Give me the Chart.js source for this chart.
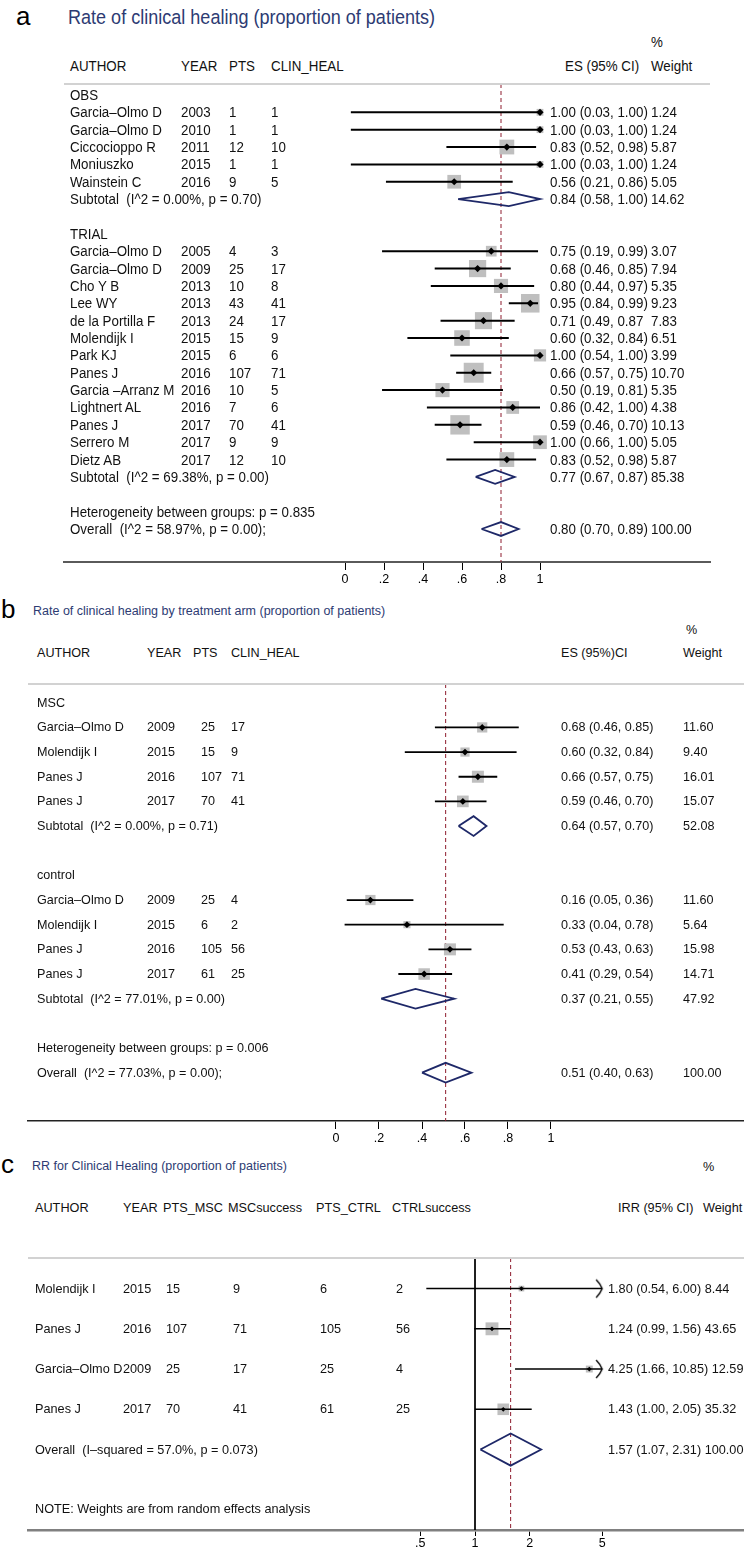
<!DOCTYPE html>
<html lang="en">
<head>
<meta charset="UTF-8">
<title>Clinical healing - forest plots</title>
<script src="https://cdn.jsdelivr.net/npm/chart.js"></script>
<style>
    body { margin: 0; background: #fff; }
    #page {
        position: relative;
        width: 744px;
        height: 1551px;
        overflow: hidden;
        background: #fff;
        color: #111;
        font-family: 'Liberation Sans', Arial, sans-serif;
    }
    #page canvas { position: absolute; left: 0; }
    .t { position: absolute; white-space: pre; transform: translateY(-50%); transform-origin: 0 50%; }
    .rule { position: absolute; height: 2px; background: #d2d2d2; }
</style>
</head>
<body>
<div id="page">
    <canvas id="chartA"></canvas>
    <canvas id="chartB"></canvas>
    <canvas id="chartC"></canvas>
</div>

<script>
// ---------- panel a : rate of clinical healing ----------
const aGroups = ['OBS', 'TRIAL'];
const aGroupIdx = [0, 0, 0, 0, 0, 1, 1, 1, 1, 1, 1, 1, 1, 1, 1, 1, 1, 1];
const aAuthor = ['Garcia–Olmo D', 'Garcia–Olmo D', 'Ciccocioppo R', 'Moniuszko', 'Wainstein C',
    'Garcia–Olmo D', 'Garcia–Olmo D', 'Cho Y B', 'Lee WY', 'de la Portilla F', 'Molendijk I', 'Park KJ',
    'Panes J', 'Garcia –Arranz M', 'Lightnert AL', 'Panes J', 'Serrero M', 'Dietz AB'];
const aYear = [2003, 2010, 2011, 2015, 2016, 2005, 2009, 2013, 2013, 2013, 2015, 2015, 2016, 2016, 2016, 2017, 2017, 2017];
const aPts = [1, 1, 12, 1, 9, 4, 25, 10, 43, 24, 15, 6, 107, 10, 7, 70, 9, 12];
const aHeal = [1, 1, 10, 1, 5, 3, 17, 8, 41, 17, 9, 6, 71, 5, 6, 41, 9, 10];
const aES = [1.00, 1.00, 0.83, 1.00, 0.56, 0.75, 0.68, 0.80, 0.95, 0.71, 0.60, 1.00, 0.66, 0.50, 0.86, 0.59, 1.00, 0.83];
const aLo = [0.03, 0.03, 0.52, 0.03, 0.21, 0.19, 0.46, 0.44, 0.84, 0.49, 0.32, 0.54, 0.57, 0.19, 0.42, 0.46, 0.66, 0.52];
const aHi = [1.00, 1.00, 0.98, 1.00, 0.86, 0.99, 0.85, 0.97, 0.99, 0.87, 0.84, 1.00, 0.75, 0.81, 1.00, 0.70, 1.00, 0.98];
const aWeight = [1.24, 1.24, 5.87, 1.24, 5.05, 3.07, 7.94, 5.35, 9.23, 7.83, 6.51, 3.99, 10.70, 5.35, 4.38, 10.13, 5.05, 5.87];
const aNoBracket = [9]; // de la Portilla: closing bracket is missing in the original
const aSubLabel = ['Subtotal  (I^2 = 0.00%, p = 0.70)', 'Subtotal  (I^2 = 69.38%, p = 0.00)'];
const aSubES = [0.84, 0.77];
const aSubLo = [0.58, 0.67];
const aSubHi = [1.00, 0.87];
const aSubWeight = [14.62, 85.38];
const aHetLabel = 'Heterogeneity between groups: p = 0.835';
const aOverallLabel = 'Overall  (I^2 = 58.97%, p = 0.00);';
const aOverall = [0.80, 0.70, 0.89, 100.00]; // ES, lo, hi, weight
const aTicks = [0, 0.2, 0.4, 0.6, 0.8, 1];
const aTickLabels = ['0', '.2', '.4', '.6', '.8', '1'];

// ---------- panel b : by treatment arm ----------
const bGroups = ['MSC', 'control'];
const bGroupIdx = [0, 0, 0, 0, 1, 1, 1, 1];
const bAuthor = ['Garcia–Olmo D', 'Molendijk I', 'Panes J', 'Panes J', 'Garcia–Olmo D', 'Molendijk I', 'Panes J', 'Panes J'];
const bYear = [2009, 2015, 2016, 2017, 2009, 2015, 2016, 2017];
const bPts = [25, 15, 107, 70, 25, 6, 105, 61];
const bHeal = [17, 9, 71, 41, 4, 2, 56, 25];
const bES = [0.68, 0.60, 0.66, 0.59, 0.16, 0.33, 0.53, 0.41];
const bLo = [0.46, 0.32, 0.57, 0.46, 0.05, 0.04, 0.43, 0.29];
const bHi = [0.85, 0.84, 0.75, 0.70, 0.36, 0.78, 0.63, 0.54];
const bWeight = [11.60, 9.40, 16.01, 15.07, 11.60, 5.64, 15.98, 14.71];
const bSubLabel = ['Subtotal  (I^2 = 0.00%, p = 0.71)', 'Subtotal  (I^2 = 77.01%, p = 0.00)'];
const bSubES = [0.64, 0.37];
const bSubLo = [0.57, 0.21];
const bSubHi = [0.70, 0.55];
const bSubWeight = [52.08, 47.92];
const bHetLabel = 'Heterogeneity between groups: p = 0.006';
const bOverallLabel = 'Overall  (I^2 = 77.03%, p = 0.00);';
const bOverall = [0.51, 0.40, 0.63, 100.00];
const bTicks = [0, 0.2, 0.4, 0.6, 0.8, 1];
const bTickLabels = ['0', '.2', '.4', '.6', '.8', '1'];

// ---------- panel c : RR MSC vs control ----------
const cAuthor = ['Molendijk I', 'Panes J', 'Garcia–Olmo D', 'Panes J'];
const cYear = [2015, 2016, 2009, 2017];
const cPtsMsc = [15, 107, 25, 70];
const cMscSuccess = [9, 71, 17, 41];
const cPtsCtrl = [6, 105, 25, 61];
const cCtrlSuccess = [2, 56, 4, 25];
const cIRR = [1.80, 1.24, 4.25, 1.43];
const cLo = [0.54, 0.99, 1.66, 1.00];
const cHi = [6.00, 1.56, 10.85, 2.05];
const cWeight = [8.44, 43.65, 12.59, 35.32];
const cOverallLabel = 'Overall  (I–squared = 57.0%, p = 0.073)';
const cOverall = [1.57, 1.07, 2.31, 100.00];
const cNote = 'NOTE: Weights are from random effects analysis';
const cTicks = [0.5, 1, 2, 5];
const cTickLabels = ['.5', '1', '2', '5'];

// ---------- fonts ----------
const SANS = '"Liberation Sans", Arial, sans-serif';
const fontA = '15.5px/1 ' + SANS;      // drawn condensed (scaleX) like the narrow Stata font
const fontATitle = '20.5px/1 ' + SANS;
const fontB = '12.6px/1 ' + SANS;
const fontC = '12.7px/1 ' + SANS;
const fontSmallTitle = '12.5px/1 ' + SANS;
const fontLetter = '26px/1 ' + SANS;
const TITLE_COLOR = '#2d3b73';

const page = document.getElementById('page');

function put(text, x, y, font, color, squeeze) {
    const d = document.createElement('div');
    d.className = 't';
    d.textContent = text;
    d.style.left = x + 'px';
    d.style.top = y + 'px';
    d.style.font = font;
    if (color) d.style.color = color;
    if (squeeze) d.style.transform = 'translateY(-50%) scaleX(' + squeeze + ')';
    page.appendChild(d);
    return d;
}
const putA = (text, x, y) => put(text, x, y, fontA, null, 0.86);

function rule(x1, x2, y) {
    const d = document.createElement('div');
    d.className = 'rule';
    d.style.left = x1 + 'px';
    d.style.width = (x2 - x1) + 'px';
    d.style.top = (y - 1) + 'px';
    page.appendChild(d);
}

const fmt = (e, l, h) => e.toFixed(2) + ' (' + l.toFixed(2) + ', ' + h.toFixed(2) + ')';

// rows: group title, its studies, subtotal, blank line ... then heterogeneity + overall
function groupedRows(groupIdx, nGroups) {
    let r = 0;
    const study = [], group = [], sub = [];
    for (let g = 0; g < nGroups; g++) {
        group[g] = r++;
        groupIdx.forEach((gi, i) => { if (gi === g) study[i] = r++; });
        sub[g] = r++;
        r++;
    }
    return { study, group, sub, het: r, overall: r + 1 };
}

// chevron drawn where a CI runs past the axis range (tip at the centre of the image)
function chevron() {
    const c = document.createElement('canvas');
    c.width = 20; c.height = 22;
    const g = c.getContext('2d');
    g.strokeStyle = '#000';
    g.lineWidth = 1.4;
    g.beginPath();
    g.moveTo(4, 2);
    g.quadraticCurveTo(8, 6, 10, 11);
    g.quadraticCurveTo(8, 16, 4, 20);
    g.stroke();
    return c;
}

function forestConfig(L, m) {
    const ci = [];
    m.cis.forEach(c => {
        ci.push({ x: c.lo, y: c.y }, { x: m.clip ? Math.min(c.hi, m.clip) : c.hi, y: c.y }, { x: null, y: null });
    });
    const dia = [];
    m.diamonds.forEach(d => {
        const h = L.diamondH;
        dia.push({ x: d.lo, y: d.y }, { x: d.es, y: d.y - h }, { x: d.hi, y: d.y },
                 { x: d.es, y: d.y + h }, { x: d.lo, y: d.y }, { x: null, y: null });
    });
    const arrows = m.clip ? m.cis.filter(c => c.hi > m.clip).map(c => ({ x: m.clip, y: c.y })) : [];

    const datasets = [
        { label: 'estimate', data: m.boxes.map(b => ({ x: b.x, y: b.y })), pointStyle: 'rectRot',
          pointRadius: L.markR, backgroundColor: '#000', borderWidth: 0, order: 0 },
        { label: 'arrow', data: arrows, pointStyle: chevron(), pointRadius: 10, order: 0 },
        { label: '95% CI', data: ci, showLine: true, pointRadius: 0, borderColor: '#000',
          borderWidth: L.ciWidth, order: 1 },
        { label: 'weight', data: m.boxes, pointStyle: 'rect',
          pointRadius: c => c.raw ? L.boxK * Math.sqrt(c.raw.w) * Math.SQRT1_2 : 0,
          backgroundColor: '#bfbfbf', borderWidth: 0, order: 2 },
        { label: 'pooled', data: dia, showLine: true, pointRadius: 0, borderColor: '#1e2868',
          borderWidth: 1.8, borderJoinStyle: 'miter', order: 3 },
        { label: 'overall', data: [{ x: m.ref, y: L.rowMin }, { x: m.ref, y: L.rowMax }], showLine: true,
          pointRadius: 0, borderColor: '#8e1c2e', borderWidth: 1, borderDash: [4, 3], order: 4 }
    ];
    if (m.nullAt != null) {
        datasets.push({ label: 'no effect', data: [{ x: m.nullAt, y: L.rowMin }, { x: m.nullAt, y: L.rowMax }],
            showLine: true, pointRadius: 0, borderColor: '#000', borderWidth: 1, order: 5 });
    }

    return {
        type: 'scatter',
        data: { datasets },
        options: {
            responsive: false,
            maintainAspectRatio: false,
            animation: false,
            events: [],
            layout: { autoPadding: false, padding: { left: L.left, right: 744 - L.right, top: 0, bottom: 0 } },
            plugins: { legend: { display: false }, tooltip: { enabled: false } },
            scales: {
                x: {
                    type: L.xType,
                    min: L.xMin,
                    max: L.xMax,
                    position: 'bottom',
                    grid: { display: true, drawOnChartArea: false, drawTicks: true,
                            tickLength: L.tickLength, tickColor: '#000', tickWidth: 1 },
                    border: { display: true, color: L.axisColor, width: L.axisWidth },
                    ticks: {
                        color: '#000',
                        font: L.tickFont,
                        padding: L.tickPad,
                        autoSkip: false,
                        maxRotation: 0,
                        callback: (v, i) => L.tickLabels[i]
                    },
                    afterBuildTicks: s => { s.ticks = L.ticks.map(v => ({ value: v })); }
                },
                y: { type: 'linear', reverse: true, min: L.rowMin, max: L.rowMax, display: false }
            }
        }
    };
}

function setSize(canvas, h) {
    canvas.width = 744;
    canvas.height = h;
    canvas.style.width = '744px';
    canvas.style.height = h + 'px';
}

// build once, then fix the canvas height so the plot area ends exactly on the axis line
function forest(canvasId, L, m) {
    const canvas = document.getElementById(canvasId);
    const areaH = L.axisY - L.sepY;
    let h = areaH + 30;
    canvas.style.top = L.sepY + 'px';
    setSize(canvas, h);
    let chart = new Chart(canvas, forestConfig(L, m));
    const diff = areaH - chart.chartArea.bottom;
    if (Math.abs(diff) > 0.3) {
        chart.destroy();
        h = Math.round(h + diff);
        setSize(canvas, h);
        chart = new Chart(canvas, forestConfig(L, m));
    }
    rule(L.left, L.right, L.sepY);
    return y => L.sepY + chart.scales.y.getPixelForValue(y);
}

// ================= panel a =================
const rowsA = groupedRows(aGroupIdx, aGroups.length);
const LA = {
    sepY: 84, axisY: 562, left: 64, right: 710, rowMin: -0.63, rowMax: 26.9,
    xType: 'linear', xMin: (64 - 345) / 195, xMax: (710 - 345) / 195,
    ticks: aTicks, tickLabels: aTickLabels, tickLength: 8, tickPad: 2,
    tickFont: { family: SANS, size: 12.5 },
    axisColor: '#5a5a5a', axisWidth: 2, boxK: 6.1, ciWidth: 2, markR: 3.6, diamondH: 0.4
};
const yA = forest('chartA', LA, {
    boxes: aES.map((v, i) => ({ x: v, y: rowsA.study[i], w: aWeight[i] })),
    cis: aES.map((v, i) => ({ lo: aLo[i], hi: aHi[i], y: rowsA.study[i] })),
    diamonds: aSubES.map((v, g) => ({ es: v, lo: aSubLo[g], hi: aSubHi[g], y: rowsA.sub[g] }))
        .concat([{ es: aOverall[0], lo: aOverall[1], hi: aOverall[2], y: rowsA.overall }]),
    ref: aOverall[0]
});

const colA = { author: 70, year: 181, pts: 229, heal: 271, es: 550, weight: 651 };
put('a', 16, 16, fontLetter, '#000');
put('Rate of clinical healing (proportion of patients)', 68, 17, fontATitle, TITLE_COLOR, 0.88);
putA('%', colA.weight, 42);
putA('AUTHOR', colA.author, 66);
putA('YEAR', colA.year, 66);
putA('PTS', colA.pts, 66);
putA('CLIN_HEAL', colA.heal, 66);
putA('ES (95% CI)', 565, 66);
putA('Weight', colA.weight, 66);
aGroups.forEach((g, gi) => {
    putA(g, colA.author, yA(rowsA.group[gi]));
    putA(aSubLabel[gi], colA.author, yA(rowsA.sub[gi]));
    putA(fmt(aSubES[gi], aSubLo[gi], aSubHi[gi]), colA.es, yA(rowsA.sub[gi]));
    putA(aSubWeight[gi].toFixed(2), colA.weight, yA(rowsA.sub[gi]));
});
aAuthor.forEach((name, i) => {
    const y = yA(rowsA.study[i]);
    let es = fmt(aES[i], aLo[i], aHi[i]);
    if (aNoBracket.includes(i)) es = es.slice(0, -1);
    putA(name, colA.author, y);
    putA(String(aYear[i]), colA.year, y);
    putA(String(aPts[i]), colA.pts, y);
    putA(String(aHeal[i]), colA.heal, y);
    putA(es, colA.es, y);
    putA(aWeight[i].toFixed(2), colA.weight, y);
});
putA(aHetLabel, colA.author, yA(rowsA.het));
putA(aOverallLabel, colA.author, yA(rowsA.overall));
putA(fmt(aOverall[0], aOverall[1], aOverall[2]), colA.es, yA(rowsA.overall));
putA(aOverall[3].toFixed(2), colA.weight, yA(rowsA.overall));

// ================= panel b =================
const rowsB = groupedRows(bGroupIdx, bGroups.length);
const LB = {
    sepY: 684, axisY: 1121, left: 28, right: 744, rowMin: -0.76, rowMax: 16.96,
    xType: 'linear', xMin: (28 - 336) / 215, xMax: (744 - 336) / 215,
    ticks: bTicks, tickLabels: bTickLabels, tickLength: 8, tickPad: 2,
    tickFont: { family: SANS, size: 12.5 },
    axisColor: '#222', axisWidth: 1.6, boxK: 3.0, ciWidth: 1.8, markR: 3.4, diamondH: 0.4
};
const yB = forest('chartB', LB, {
    boxes: bES.map((v, i) => ({ x: v, y: rowsB.study[i], w: bWeight[i] })),
    cis: bES.map((v, i) => ({ lo: bLo[i], hi: bHi[i], y: rowsB.study[i] })),
    diamonds: bSubES.map((v, g) => ({ es: v, lo: bSubLo[g], hi: bSubHi[g], y: rowsB.sub[g] }))
        .concat([{ es: bOverall[0], lo: bOverall[1], hi: bOverall[2], y: rowsB.overall }]),
    ref: bOverall[0]
});

const colB = { author: 37, year: 147, pts: 201, heal: 231, es: 561, weight: 683 };
put('b', 1, 609, fontLetter, '#000');
put('Rate of clinical healing by treatment arm (proportion of patients)', 33, 611, fontSmallTitle, TITLE_COLOR);
put('%', 686, 630, fontB);
put('AUTHOR', colB.author, 653, fontB);
put('YEAR', colB.year, 653, fontB);
put('PTS', 193, 653, fontB);
put('CLIN_HEAL', colB.heal, 653, fontB);
put('ES (95%)CI', colB.es, 653, fontB);
put('Weight', colB.weight, 653, fontB);
bGroups.forEach((g, gi) => {
    put(g, colB.author, yB(rowsB.group[gi]), fontB);
    put(bSubLabel[gi], colB.author, yB(rowsB.sub[gi]), fontB);
    put(fmt(bSubES[gi], bSubLo[gi], bSubHi[gi]), colB.es, yB(rowsB.sub[gi]), fontB);
    put(bSubWeight[gi].toFixed(2), colB.weight, yB(rowsB.sub[gi]), fontB);
});
bAuthor.forEach((name, i) => {
    const y = yB(rowsB.study[i]);
    put(name, colB.author, y, fontB);
    put(String(bYear[i]), colB.year, y, fontB);
    put(String(bPts[i]), colB.pts, y, fontB);
    put(String(bHeal[i]), colB.heal, y, fontB);
    put(fmt(bES[i], bLo[i], bHi[i]), colB.es, y, fontB);
    put(bWeight[i].toFixed(2), colB.weight, y, fontB);
});
put(bHetLabel, colB.author, yB(rowsB.het), fontB);
put(bOverallLabel, colB.author, yB(rowsB.overall), fontB);
put(fmt(bOverall[0], bOverall[1], bOverall[2]), colB.es, yB(rowsB.overall), fontB);
put(bOverall[3].toFixed(2), colB.weight, yB(rowsB.overall), fontB);

// ================= panel c =================
const rowsC = cAuthor.map((n, i) => i);
const overallRowC = cAuthor.length;
const LC = {
    sepY: 1258, axisY: 1530, left: 28, right: 744, rowMin: -0.76, rowMax: 6.0,
    xType: 'logarithmic', xMin: Math.exp((28 - 475) / 79), xMax: Math.exp((744 - 475) / 79),
    ticks: cTicks, tickLabels: cTickLabels, tickLength: 6, tickPad: 0,
    tickFont: { family: SANS, size: 12.5 },
    axisColor: '#808080', axisWidth: 2.5, boxK: 1.95, ciWidth: 1.5, markR: 2.4, diamondH: 0.4
};
const yC = forest('chartC', LC, {
    boxes: cIRR.map((v, i) => ({ x: v, y: rowsC[i], w: cWeight[i] })),
    cis: cIRR.map((v, i) => ({ lo: cLo[i], hi: cHi[i], y: rowsC[i] })),
    diamonds: [{ es: cOverall[0], lo: cOverall[1], hi: cOverall[2], y: overallRowC }],
    ref: cOverall[0],
    nullAt: 1,
    clip: cTicks[cTicks.length - 1]
});

const colC = { author: 35, year: 123, ptsMsc: 166, msc: 233, ptsCtrl: 320, ctrl: 396, es: 608 };
put('c', 1, 1164, fontLetter, '#000');
put('RR for Clinical Healing (proportion of patients)', 32, 1166, fontSmallTitle, TITLE_COLOR);
put('%', 703, 1167, fontC);
put('AUTHOR', colC.author, 1208, fontC);
put('YEAR', colC.year, 1208, fontC);
put('PTS_MSC', 163, 1208, fontC);
put('MSCsuccess', 228, 1208, fontC);
put('PTS_CTRL', 316, 1208, fontC);
put('CTRLsuccess', 392, 1208, fontC);
put('IRR (95% CI)', 618, 1208, fontC);
put('Weight', 703, 1208, fontC);
cAuthor.forEach((name, i) => {
    const y = yC(rowsC[i]);
    put(name, colC.author, y, fontC);
    put(String(cYear[i]), colC.year, y, fontC);
    put(String(cPtsMsc[i]), colC.ptsMsc, y, fontC);
    put(String(cMscSuccess[i]), colC.msc, y, fontC);
    put(String(cPtsCtrl[i]), colC.ptsCtrl, y, fontC);
    put(String(cCtrlSuccess[i]), colC.ctrl, y, fontC);
    put(fmt(cIRR[i], cLo[i], cHi[i]) + ' ' + cWeight[i].toFixed(2), colC.es, y, fontC);
});
put(cOverallLabel, colC.author, yC(overallRowC), fontC);
put(fmt(cOverall[0], cOverall[1], cOverall[2]) + ' ' + cOverall[3].toFixed(2), colC.es, yC(overallRowC), fontC);
put(cNote, colC.author, yC(5.47), fontC);
</script>
</body>
</html>
